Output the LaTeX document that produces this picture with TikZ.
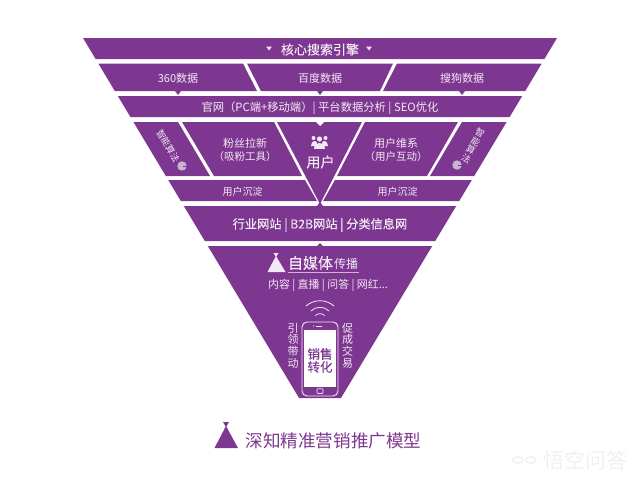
\documentclass[tikz,border=0pt]{standalone}
\usepackage{fontspec}
\setmainfont{Noto Sans CJK SC}
\newfontfamily\heavy[FakeBold=0.15]{Noto Sans CJK SC}
\newcommand{\fs}[1]{\fontsize{#1}{#1}\selectfont}
\definecolor{funnel}{HTML}{7E3790}
\definecolor{paper}{HTML}{F3E9F4}
\definecolor{helmet}{HTML}{C9B6CE}
\tikzset{
  band/.style={fill=funnel},
  lab/.style={text=paper, inner sep=0pt, yshift=-1pt},
  lineart/.style={draw=paper, line width=0.8pt, line cap=round},
}

\begin{document}
\begin{tikzpicture}[x=1pt, y=-1pt]
        \useasboundingbox (0,0) rectangle (640,482);
        % rows of the funnel
        \fill[band] (83,38) -- (557,38) -- (544.4,59) -- (95.6,59) -- cycle;
        \fill[band] (98.3,63.5) -- (243,63.5) -- (257,91) -- (114.8,91) -- cycle;
        \fill[band] (247,63.5) -- (393,63.5) -- (380,91) -- (261,91) -- cycle;
        \fill[band] (397,63.5) -- (541.7,63.5) -- (525.2,91) -- (383,91) -- cycle;
        \fill[band] (117.8,96) -- (522.2,96) -- (509.6,117) -- (130.4,117) -- cycle;
        \fill[band] (133.4,122) -- (178,122) -- (210,176) -- (165.8,176) -- cycle;
        \fill[band] (182,122) -- (274,122) -- (302,176) -- (214,176) -- cycle;
        \fill[band] (277,122) -- (362,122) -- (320,204) -- cycle;
        \fill[band] (365,122) -- (458,122) -- (427,176) -- (337,176) -- cycle;
        \fill[band] (462,122) -- (506.6,122) -- (474.2,176) -- (430,176) -- cycle;
        \fill[band] (168.2,180) -- (305,180) -- (317,201) -- (180.8,201) -- cycle;
        \fill[band] (335,180) -- (471.8,180) -- (459.2,201) -- (323,201) -- cycle;
        \fill[band] (183.8,206) -- (456.2,206) -- (435.2,241) -- (204.8,241) -- cycle;
        \fill[band] (207.8,246) -- (432.2,246) -- (341,398) -- (299,398) -- cycle;
        % little ticks between the rows
        \fill[band] (175,91) -- (181,91) -- (178,95) -- cycle;
        \fill[band] (317,91) -- (323,91) -- (320,95) -- cycle;
        \fill[band] (459,91) -- (465,91) -- (462,95) -- cycle;
        \fill[white] (316,122) -- (324,122) -- (320,126) -- cycle;
        \fill[band] (317,206) -- (323,206) -- (320,202) -- cycle;
        \fill[band] (317,246) -- (323,246) -- (320,243) -- cycle;
        \fill[paper] (266,46.5) -- (272,46.5) -- (269,50.5) -- cycle;
        \fill[paper] (366,46.5) -- (372,46.5) -- (369,50.5) -- cycle;

        \node[lab, font=\heavy\fs{13}] (engine) at (320,48.5) {核心搜索引擎};
        \node[lab, font=\fs{11}] (d360) at (178,77.5) {360数据};
        \node[lab, font=\fs{11}] (baidu) at (320,77.5) {百度数据};
        \node[lab, font=\fs{11}] (sogou) at (462,77.5) {搜狗数据};
        \node[lab, font=\fs{11.3}] (site) at (320,107) {官网（PC端+移动端）| 平台数据分析 | SEO优化};
        \node[lab, font=\fs{11}] (fans) at (245,142) {粉丝拉新};
        \node[lab, font=\fs{10.5}] (tool) at (245,156) {（吸粉工具）};
        \node[lab, font=\fs{11}] (keep) at (396,142) {用户维系};
        \node[lab, font=\fs{10.5}] (talk) at (396,156) {（用户互动）};
        \node[lab, font=\heavy\fs{14}] (user) at (320.5,161) {用户};
        \node[lab, font=\fs{10}] (sinkl) at (242.5,190.5) {用户沉淀};
        \node[lab, font=\fs{10}] (sinkr) at (397.5,190.5) {用户沉淀};
        \node[lab, font=\heavy\fs{12.2}] (trade) at (320,224) {行业网站 | B2B网站 | 分类信息网};

        % people icon
        \fill[paper] (313.5,138) circle (2) (325.5,138) circle (2);
        \fill[paper] (311,146) .. controls (311,140) and (317,140) .. (317,143) -- (317,146) -- cycle;
        \fill[paper] (322,146) -- (322,143) .. controls (322,140) and (328,140) .. (328,146) -- cycle;
        \fill[paper] (319.5,139) circle (2.6);
        \fill[paper] (314,148.5) .. controls (314,141) and (325,141) .. (325,148.5) -- cycle;

        % rotated side labels
        \node[lab, font=\fs{9}, rotate=-60] (algl) at (168,145) {智能算法};
        \foreach \ch [count=\i] in {智,能,算,法}
          \node[lab, font=\fs{9}, rotate=-30] (algr\i) at ({480-\i*4.6+4.6},{132+(\i-1)*8.6}) {\ch};
        \fill[helmet] (182,166) circle (4.7);
        \fill[funnel] (182.5,166) rectangle (187,167);
        \fill[helmet] (457,165) circle (4.7);
        \fill[funnel] (457.5,165) rectangle (462,166);

        % self media
        \fill[paper] (273.5,253) -- (278.5,253) -- (276,257) -- cycle;
        \fill[paper] (276,256) -- (285.5,272) -- (267.5,272) -- cycle;
        \node[lab, font=\heavy\fs{15}] (media) at (310.5,262) {自媒体};
        \node[lab, font=\fs{12}] (spread) at (346,263) {传播};
        \draw[paper!70!funnel, line width=0.4pt] (288,272.5) -- (359,272.5);
        \node[lab, font=\fs{10.9}] (kinds) at (328,284) {内容 | 直播 | 问答 | 网红...};

        % signal arcs
        \draw[lineart] (306,306) .. controls (314,299) and (326,299) .. (334,306);
        \draw[lineart] (311,311) .. controls (316,306) and (324,306) .. (329,311);
        \draw[lineart] (315.5,315.5) .. controls (318,313) and (322,313) .. (324.5,315.5);

        % phone
        \draw[draw=paper, line width=0.9pt, rounded corners=5pt] (302,322) rectangle (338,396);
        \fill[white] (304,330) rectangle (336,387);
        \draw[paper, line width=0.8pt] (316,326) -- (322,326);
        \fill[paper] (313.5,326) circle (0.6);
        \draw[paper, line width=0.7pt, rounded corners=1pt] (317,388.7) rectangle (323,393.5);
        \node[lab, text=funnel, font=\heavy\fs{12.5}] (sale) at (320,353) {销售};
        \node[lab, text=funnel, font=\heavy\fs{12.5}] (conv) at (320,366) {转化};
        \foreach \ch [count=\i] in {引,领,带,动}
          \node[lab, font=\fs{11}] (lead\i) at (293,{327+(\i-1)*11.8}) {\ch};
        \foreach \ch [count=\i] in {促,成,交,易}
          \node[lab, font=\fs{11}] (deal\i) at (347.5,{327+(\i-1)*11.8}) {\ch};

        % title
        \fill[funnel] (223,422) -- (229,422) -- (226,427) -- cycle;
        \fill[funnel] (226,426) -- (238,448) -- (214.5,448) -- cycle;
        \node[lab, text=funnel, font=\fs{17.6}] (title) at (333.5,440) {深知精准营销推广模型};

        % watermark
        \draw[black!6, line width=1.4pt] (518,460) ellipse (5 and 3.2) (531,460) ellipse (5 and 3.2);
        \node[lab, text=black!6, font=\fs{21}] (wmark) at (585.5,459) {悟空问答};
\end{tikzpicture}
\end{document}
